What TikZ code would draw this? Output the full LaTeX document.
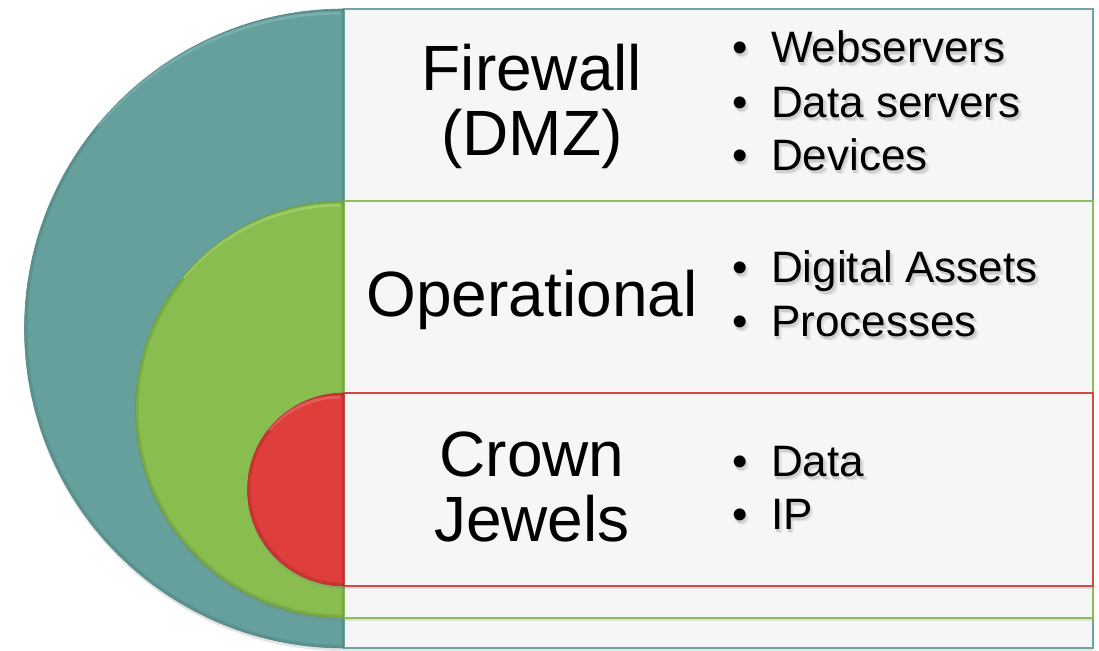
\documentclass[tikz,border=0pt]{standalone}
\usepackage{fontspec}
\setmainfont{Liberation Sans}
\usetikzlibrary{shadows}

\definecolor{boxfill}{RGB}{246,246,246}
\definecolor{tealfill}{RGB}{101,160,157}
\definecolor{tealdark}{RGB}{78,130,128}
\definecolor{teallight}{RGB}{140,192,189}
\definecolor{tealline}{RGB}{112,164,164}
\definecolor{greenfill}{RGB}{137,189,80}
\definecolor{greendark}{RGB}{104,152,56}
\definecolor{greenlight}{RGB}{178,222,120}
\definecolor{greenline}{RGB}{140,190,90}
\definecolor{redfill}{RGB}{222,62,60}
\definecolor{reddark}{RGB}{172,44,44}
\definecolor{redlight}{RGB}{245,120,115}
\definecolor{redline}{RGB}{208,72,72}
\definecolor{shadenear}{RGB}{206,206,206}
\definecolor{shadefar}{RGB}{228,228,228}

% text with a soft shadow below right, set inside one box
\newcommand\shadowed[1]{%
  \rlap{\kern3.5pt\raisebox{-4pt}{\color{shadefar}#1}}%
  \rlap{\kern1.5pt\raisebox{-2.5pt}{\color{shadenear}#1}}%
  #1}

% one bullet line: dot and text, placed on its baseline
\newcommand\bulletline[3]{%
  \node[itemtext] (#1) at (771,#2) {\shadowed{#3}};
  \node[itemtext, anchor=base] (#1-dot) at (740,#2) {\shadowed{•}};
}

% half disc with a bevelled rim, flat side on x = 344
\newcommand\halfdisc[5]{% cy, r, fill, dark, light
  \fill[#3, drop shadow={shadow xshift=0pt, shadow yshift=-3pt, opacity=.22}]
    (344,#1+#2) arc[start angle=90, end angle=270, radius=#2] -- cycle;
  \begin{scope}
    \clip (344,#1+#2) arc[start angle=90, end angle=270, radius=#2] -- cycle;
    \draw[#4, line width=6pt, opacity=.45]
      (344,#1+#2) arc[start angle=90, end angle=270, radius=#2];
    \draw[#5, line width=3pt, opacity=.55]
      (340,#1+#2-4) arc[start angle=90, end angle=140, radius=#2-4];
    \draw[#4, line width=4pt, opacity=.55] (344,#1+#2) -- (344,#1-#2);
  \end{scope}
  \draw[#4, line width=.6pt, opacity=.8]
    (344,#1+#2) arc[start angle=90, end angle=270, radius=#2];
}

\begin{document}
\begin{tikzpicture}[x=1pt, y=1pt,
  layerbox/.style={fill=boxfill, line width=1.6pt,
    drop shadow={shadow xshift=0pt, shadow yshift=-3pt, opacity=.2}},
  title/.style={anchor=base, inner sep=0pt, text=black,
    font=\fontsize{64}{64}\selectfont},
  itemtext/.style={anchor=base west, inner sep=0pt, text=black,
    font=\fontsize{44}{44}\selectfont}]
\useasboundingbox (0,0) rectangle (1099,650);
\fill[white] (0,0) rectangle (1099,650);

% outer layer
\path[layerbox, draw=tealline] (344,2) rectangle (1093,641);
\halfdisc{321.5}{319.5}{tealfill}{tealdark}{teallight}

% middle layer
\path[layerbox, draw=greenline] (344,32) rectangle (1093,449);
\halfdisc{240.5}{208.5}{greenfill}{greendark}{greenlight}

% inner layer
\path[layerbox, draw=redline] (344,64) rectangle (1093,257);
\halfdisc{160.5}{96.5}{redfill}{reddark}{redlight}

% layer titles
\node[title] (fw1) at (532,559) {Firewall};
\node[title] (fw2) at (532,494) {(DMZ)};
\node[title] (op) at (532,333) {Operational};
\node[title] (cj1) at (532,173) {Crown};
\node[title] (cj2) at (532,108) {Jewels};

% layer contents
\bulletline{web}{587}{Webservers}
\bulletline{dsrv}{532}{Data servers}
\bulletline{dev}{479}{Devices}
\bulletline{dig}{367}{Digital Assets}
\bulletline{proc}{313}{Processes}
\bulletline{data}{173}{Data}
\bulletline{ip}{120}{IP}
\end{tikzpicture}
\end{document}
